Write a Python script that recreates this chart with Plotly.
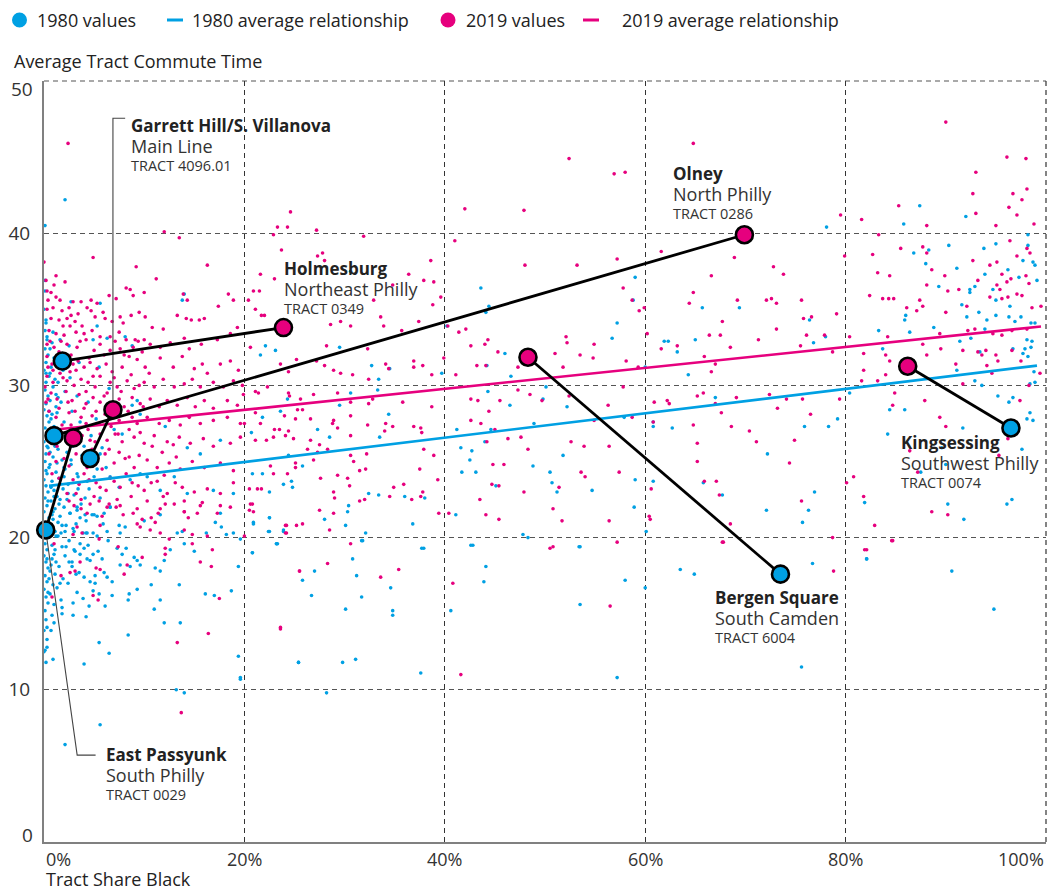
import plotly.graph_objects as go

FONT = "Open Sans"
BLUE = "#00A0E3"
PINK = "#E6007E"
INK = "#222222"

# ---- scatter cloud: (tract share black in %, average commute minutes) ----
tracts_1980 = [
    # dense column along the axis
    (0.1, 33.6), (0.3, 33.0), (0.1, 32.4), (0.4, 32.0), (0.2, 31.5), (0.0, 31.0), (0.5, 30.6), (0.2, 30.2),
    (0.1, 29.7), (0.4, 29.3), (0.2, 28.8), (0.0, 28.4), (0.3, 28.0), (0.5, 27.6), (0.1, 27.2), (0.3, 26.8),
    (0.0, 26.3), (0.4, 25.9), (0.2, 25.5), (0.1, 25.0), (0.5, 24.6), (0.3, 24.2), (0.0, 23.8), (0.2, 23.4),
    (0.4, 23.0), (0.1, 22.6), (0.3, 22.1), (0.0, 21.7), (0.5, 21.3), (0.2, 20.9), (0.4, 20.0), (0.1, 19.6),
    (0.3, 19.2), (0.0, 18.8), (0.2, 18.4), (0.4, 18.0), (0.1, 17.5), (0.3, 17.1), (0.0, 16.6), (0.2, 16.1),
    (0.4, 15.7), (0.1, 15.2), (0.2, 14.6), (0.0, 13.9), (0.3, 13.3), (0.1, 12.6), (0.2, 11.8), (0.0, 35.0),
    (0.2, 34.3), (0.1, 36.2), (0.3, 14.1), (0.0, 12.5), (0.3, 12.8), (0.9, 12.0),
    (0.2, 24.4), (0.4, 22.4), (0.1, 20.4), (0.3, 18.6), (0.5, 17.3), (0.6, 25.6), (0.7, 23.3), (0.9, 21.7),
    (1.1, 20.4), (0.8, 18.6), (1.3, 24.9), (1.5, 22.2), (1.7, 20.3), (1.2, 18.4), (1.6, 17.0), (2.3, 25.6),
    (2.4, 22.9), (2.2, 19.4), (2.9, 20.6), (3.6, 19.6), (0.5, 28.3), (0.3, 26.0), (0.9, 27.0), (1.4, 29.2),
    (0.2, 30.8), (0.6, 32.4), (2.8, 26.0), (3.4, 23.2), (4.1, 22.6), (5.3, 20.1), (4.4, 19.5), (5.8, 18.6),
    (3.9, 16.0), (1.0, 14.4), (0.4, 16.4),
    (0.8, 32.8), (1.0, 31.8), (0.7, 31.2), (1.1, 30.4), (0.9, 29.9), (0.6, 29.0), (1.2, 28.6), (0.8, 28.1),
    (1.0, 27.3), (0.7, 26.6), (1.1, 26.0), (0.9, 25.3), (0.6, 24.8), (1.2, 24.3), (0.8, 23.7), (1.0, 23.1),
    (0.7, 22.4), (1.1, 21.9), (0.9, 21.2), (0.6, 20.6), (1.2, 20.1), (0.8, 19.5), (1.0, 18.9), (0.7, 18.2),
    (1.1, 17.6), (0.9, 16.9), (0.6, 16.3), (1.0, 15.6), (0.8, 14.9), (0.7, 13.9), (0.9, 33.5), (0.6, 30.8),
    (1.2, 29.4), (0.7, 27.8), (1.0, 22.7), (0.8, 21.5), (1.1, 19.2), (0.6, 17.8),
    (1.5, 32.1), (1.9, 31.0), (1.4, 30.2), (2.1, 29.6), (1.7, 28.9), (1.3, 28.2), (2.0, 27.6), (1.6, 27.0),
    (2.2, 26.4), (1.4, 25.8), (1.8, 25.1), (2.1, 24.5), (1.5, 23.9), (1.9, 23.2), (1.3, 22.7), (2.0, 22.0),
    (1.6, 21.4), (2.2, 20.8), (1.4, 20.1), (1.8, 19.4), (2.1, 18.8), (1.5, 18.1), (1.9, 17.3), (1.3, 16.7),
    (1.7, 15.9), (1.8, 15.0), (1.6, 33.0), (2.0, 24.0), (1.4, 21.0),
    (2.6, 30.5), (3.3, 29.3), (2.8, 28.3), (3.6, 27.6), (2.5, 26.9), (3.1, 26.1), (3.8, 25.4), (2.7, 24.8),
    (3.4, 24.0), (2.4, 23.5), (3.0, 22.8), (3.7, 22.2), (2.6, 21.6), (3.2, 20.9), (3.9, 20.3), (2.5, 19.8),
    (3.1, 19.1), (2.8, 18.4), (3.5, 17.7), (2.4, 17.0), (3.3, 16.4), (2.9, 15.7), (3.5, 31.5), (2.5, 32.6),
    (4.4, 28.9), (5.2, 27.8), (4.7, 26.7), (5.8, 25.9), (4.3, 25.2), (6.2, 24.6), (5.0, 24.0), (4.5, 23.2),
    (5.6, 22.6), (6.6, 22.0), (4.8, 21.5), (5.9, 20.9), (4.2, 20.3), (6.4, 19.8), (5.4, 19.1), (4.6, 18.5),
    (6.0, 17.7), (5.1, 17.0), (6.8, 16.2), (4.5, 15.5), (6.5, 29.8), (5.5, 31.2), (4.9, 33.0),
    # scattered, left part
    (2.1, 42.2), (0.1, 40.5), (0.1, 36.9), (0.2, 34.1), (0.3, 33.2), (2.7, 35.5), (5.6, 35.4), (5.3, 33.9),
    (6.3, 33.1), (8.1, 33.2), (8.8, 32.6), (14.0, 36.0), (13.8, 35.6), (9.3, 29.0), (8.8, 28.7), (9.6, 28.1),
    (12.1, 27.3), (14.3, 25.9), (17.6, 26.4), (15.6, 25.5), (7.0, 27.1), (7.8, 26.8), (4.0, 26.0), (5.6, 25.5),
    (2.7, 25.1), (2.0, 24.6), (3.3, 24.2), (4.3, 23.7), (5.3, 24.5), (6.6, 24.0), (7.5, 23.3), (8.6, 23.8),
    (9.6, 24.2), (10.3, 24.0), (11.6, 23.1), (13.0, 24.0), (14.3, 22.9), (16.9, 23.1), (18.9, 22.9), (2.3, 22.5),
    (3.3, 21.8), (4.2, 21.1), (5.3, 21.4), (6.6, 22.0), (8.1, 20.7), (10.0, 21.1), (11.6, 21.5), (13.3, 20.3),
    (18.9, 20.3),
    (1.6, 22.5), (2.6, 21.6), (3.3, 22.0), (3.6, 21.3), (1.8, 20.8), (2.1, 20.4), (3.0, 20.4), (4.3, 20.3),
    (4.9, 20.3), (6.3, 20.4), (7.5, 20.8), (7.6, 20.3), (6.0, 21.6), (5.0, 21.5), (4.1, 21.5), (3.0, 19.2),
    (4.0, 19.3), (3.6, 18.9), (4.3, 18.6), (4.9, 18.9), (2.5, 18.4), (2.8, 18.1), (3.2, 17.6), (4.0, 17.4),
    (4.6, 17.1), (5.1, 17.5), (6.3, 17.4), (6.8, 17.1), (7.3, 19.3), (7.8, 18.9), (8.2, 19.3), (9.3, 18.5),
    (9.0, 18.7), (7.6, 18.2), (8.6, 18.1), (9.6, 18.2), (11.1, 18.0), (11.6, 17.8), (12.0, 18.5), (12.6, 19.2),
    (13.8, 20.4), (14.0, 19.6), (15.0, 19.1), (16.2, 20.3), (17.1, 21.0), (17.6, 21.6), (17.7, 20.7), (18.2, 20.2),
    (19.6, 19.9), (19.4, 18.1), (18.7, 16.5), (17.0, 16.2), (16.1, 16.3), (13.5, 16.9), (11.6, 15.9), (10.7, 16.9),
    (9.3, 16.6), (8.5, 16.3), (8.4, 15.9), (5.5, 16.3), (4.9, 16.5), (6.1, 15.5), (11.0, 15.3), (12.0, 14.4),
    (13.6, 14.4), (4.2, 14.8), (2.9, 14.9), (1.8, 15.4), (8.4, 13.6), (6.5, 12.4), (5.5, 13.1), (4.0, 11.7),
    (19.4, 12.2), (19.6, 10.8), (25.4, 11.8), (13.2, 10.0), (14.0, 9.8), (5.6, 7.7), (2.1, 6.4), (20.9, 21.0),
    (20.8, 19.0), (22.5, 21.3), (23.3, 19.6), (22.5, 20.4), (23.9, 20.4),
    # middle
    (30.6, 37.5), (43.6, 36.4), (44.4, 35.2), (44.1, 34.8), (59.0, 37.1), (58.8, 35.6), (57.2, 34.1), (56.7, 33.1),
    (22.1, 32.6), (23.1, 32.3), (21.6, 32.0), (29.5, 32.5), (32.7, 31.3), (34.5, 31.1), (39.7, 30.8), (40.2, 33.9),
    (44.2, 31.3), (46.0, 32.1), (46.6, 30.6), (33.4, 30.4), (30.6, 29.5), (24.3, 29.1), (29.5, 28.7), (33.3, 29.7),
    (34.4, 28.1), (33.5, 26.6), (21.8, 27.9), (20.7, 26.9), (23.6, 28.3), (27.3, 27.1), (28.5, 26.6), (44.3, 29.6),
    (46.5, 28.7), (48.9, 27.5), (49.8, 29.1), (50.1, 29.9), (52.2, 28.6), (60.0, 31.2), (57.9, 27.9), (51.8, 25.4),
    (48.8, 24.7), (50.5, 24.3), (50.7, 23.6), (51.2, 23.0), (54.7, 23.1), (59.0, 23.8), (58.9, 22.0), (41.7, 24.3),
    (43.1, 24.3), (42.7, 25.7), (42.5, 25.1), (41.6, 25.9), (41.2, 27.1), (44.0, 26.3), (44.6, 27.1), (45.1, 23.4),
    (41.1, 21.5), (36.8, 20.9), (38.0, 22.6), (36.0, 22.7), (33.4, 22.8), (32.4, 22.9), (30.4, 22.1), (30.3, 21.7),
    (22.5, 23.0), (23.9, 23.5), (24.8, 23.3), (24.7, 23.7), (20.8, 24.2), (21.8, 24.2), (25.8, 24.7), (24.4, 25.4),
    (22.5, 21.3), (20.9, 20.9), (22.4, 20.4), (23.9, 20.5), (28.0, 21.2), (30.1, 20.8), (32.1, 20.3), (23.2, 19.6),
    (31.8, 19.8), (37.9, 19.3), (42.8, 19.5), (47.8, 20.2), (48.3, 20.0), (53.5, 19.4),
    # right part
    (78.1, 40.4), (87.4, 41.8), (85.8, 40.6), (92.0, 41.1), (98.2, 39.9), (98.2, 39.2), (93.8, 39.0), (95.0, 39.3),
    (90.3, 39.2), (86.8, 38.7), (88.3, 38.9), (88.0, 38.0), (91.1, 37.7), (96.2, 37.6), (97.3, 37.1), (97.7, 38.2),
    (98.7, 38.1), (98.9, 37.9), (99.1, 36.9), (93.9, 37.3), (92.9, 36.5), (92.4, 36.3), (92.4, 36.1), (94.7, 36.3),
    (95.0, 35.6), (96.4, 35.2), (93.3, 34.8), (95.0, 34.6), (96.3, 34.5), (97.5, 34.5), (96.9, 34.2), (98.9, 34.1),
    (98.5, 34.1), (91.6, 35.3), (92.1, 34.5), (89.3, 36.5), (88.8, 33.8), (86.0, 34.6), (85.9, 34.3), (86.4, 33.5),
    (83.3, 33.6), (94.1, 34.3), (93.9, 33.7), (92.5, 33.1), (91.4, 32.9), (98.1, 33.0), (98.6, 32.9), (97.9, 32.4),
    (97.7, 32.1), (98.2, 31.9), (98.5, 32.5), (93.4, 32.2), (96.7, 32.4), (83.7, 32.4), (91.1, 31.0), (98.8, 30.9),
    (98.9, 30.2), (98.4, 30.1), (92.9, 30.3), (93.6, 30.0), (80.4, 29.5), (78.0, 33.2), (76.8, 32.8), (76.4, 34.3),
    (69.4, 35.1), (65.7, 35.1), (65.0, 33.0), (62.3, 32.9), (61.9, 32.9), (63.2, 32.2), (64.3, 30.7), (67.0, 29.2),
    (60.8, 27.6), (60.8, 27.3), (62.7, 27.2), (75.9, 27.3), (78.3, 27.3), (79.2, 27.8), (72.2, 25.5), (60.8, 23.7),
    (65.8, 23.6), (67.7, 22.8), (76.9, 23.0), (76.3, 21.8), (75.7, 21.0), (72.1, 21.8), (60.1, 20.4), (81.9, 22.3),
    (82.1, 18.6), (84.4, 28.4), (85.9, 28.4), (84.2, 26.8), (87.5, 24.3), (89.6, 25.9), (90.0, 24.8), (91.7, 27.2),
    (95.2, 29.3), (96.3, 28.9), (96.7, 29.2), (98.4, 28.2), (98.1, 27.8), (98.7, 27.7), (97.6, 25.8), (90.2, 22.2),
    (91.8, 21.2), (96.1, 22.2), (96.6, 22.5),
    # lower band
    (20.8, 19.0), (23.2, 19.6), (27.0, 17.8), (25.8, 17.2), (26.7, 16.2), (30.8, 18.6), (31.2, 17.5), (31.7, 19.8),
    (30.1, 15.3), (31.7, 16.1), (34.6, 16.7), (34.8, 15.2), (34.8, 14.9), (37.7, 19.3), (25.4, 11.8), (29.8, 11.8),
    (31.1, 12.0), (37.6, 11.1), (28.2, 9.8), (19.6, 10.7), (42.6, 19.5), (44.1, 18.1), (43.9, 17.1), (40.6, 15.2),
    (53.4, 19.4), (53.5, 15.6), (58.0, 17.2), (60.0, 16.7), (57.2, 10.8), (63.5, 17.9), (64.9, 17.6), (76.7, 18.3),
    (75.6, 11.5), (82.1, 18.6), (90.6, 17.8), (94.8, 15.3),
]

tracts_2019 = [
    # left cloud
    (12.0, 40.1), (13.5, 39.7), (4.9, 38.4), (9.2, 37.8), (16.3, 37.9), (11.2, 37.0), (0.2, 36.9), (0.3, 36.2),
    (0.7, 36.1), (1.2, 35.8), (2.1, 36.8), (0.3, 35.0), (0.9, 35.1), (1.6, 35.6), (2.5, 35.1), (2.9, 35.5),
    (3.7, 35.5), (4.7, 35.6), (5.3, 35.4), (7.2, 35.7), (8.2, 36.4), (8.6, 36.3), (8.9, 35.9), (10.0, 36.1),
    (13.9, 36.0), (14.3, 35.6), (11.9, 33.7), (13.3, 34.6), (14.2, 34.4), (14.7, 34.3), (15.5, 34.3), (16.0, 34.4),
    (18.4, 36.0), (18.9, 35.6), (17.4, 35.2), (0.7, 34.4), (1.5, 34.3), (2.3, 34.4), (2.7, 34.6), (3.1, 34.2),
    (3.8, 33.9), (4.7, 34.9), (5.1, 34.5), (6.1, 34.4), (6.8, 34.2), (7.6, 34.5), (8.7, 34.6), (9.5, 34.8),
    (10.1, 34.5), (10.8, 33.8), (0.5, 33.6), (1.2, 33.4), (2.0, 33.3), (3.2, 33.5), (4.0, 33.4), (4.8, 33.6),
    (5.6, 33.2), (6.6, 33.2), (7.5, 33.5), (8.2, 33.0), (9.1, 33.0), (10.0, 33.0), (0.3, 32.7), (1.0, 32.5),
    (1.5, 32.2), (2.3, 32.7), (3.3, 32.5), (4.2, 33.0), (5.0, 32.3), (5.6, 32.7), (6.6, 32.3), (7.6, 32.4),
    (8.9, 32.5), (9.8, 32.2), (10.6, 32.7), (11.6, 32.5), (12.6, 32.8), (14.0, 33.1), (14.5, 32.4), (15.7, 32.7),
    (17.3, 33.0), (18.6, 33.4), (19.3, 33.8), (0.3, 31.9), (0.8, 31.4), (1.3, 31.6), (2.2, 31.8), (2.9, 31.4),
    (3.2, 31.0), (4.0, 31.2), (4.6, 31.5), (5.3, 31.1), (6.2, 31.4), (6.8, 30.9), (7.8, 31.2), (8.5, 31.9),
    (9.3, 31.7), (10.1, 31.2), (10.5, 30.8), (11.6, 31.8), (12.9, 31.2), (13.8, 31.9), (15.0, 31.1), (15.8, 31.4),
    (16.3, 30.8), (17.6, 31.4), (18.6, 31.6), (19.4, 31.0), (0.3, 30.6), (0.9, 30.2), (1.6, 30.8), (2.3, 30.3),
    (3.0, 30.0), (3.7, 30.4), (4.4, 30.2), (5.1, 29.9), (5.6, 30.6), (6.6, 30.2), (7.3, 29.9), (8.3, 30.3),
    (9.0, 29.8), (10.0, 30.2), (11.0, 29.9), (11.9, 30.4), (13.0, 29.9), (14.0, 30.1), (14.8, 30.4), (15.6, 29.9),
    (16.9, 30.2), (17.9, 29.9), (18.9, 30.3), (19.8, 30.0), (0.7, 29.5), (1.3, 29.1), (2.2, 29.6), (2.8, 29.0),
    (3.5, 29.4), (4.2, 28.8), (4.9, 29.2), (5.6, 28.9), (6.3, 29.5), (7.5, 29.1), (8.0, 28.6), (8.8, 29.2),
    (9.6, 28.8), (10.6, 29.1), (11.5, 28.6), (12.3, 29.0), (13.3, 28.7), (14.3, 29.2), (15.1, 28.6), (16.0, 29.0),
    (16.9, 28.5), (18.3, 29.0), (19.3, 28.7), (0.5, 28.3), (1.2, 27.9), (3.7, 27.9), (4.2, 27.5), (4.8, 28.0),
    (5.5, 27.5), (8.8, 27.9), (9.3, 27.5), (10.3, 27.9), (11.5, 27.5), (12.5, 27.7), (13.6, 27.4), (14.5, 27.9),
    (15.6, 27.5), (16.9, 27.7), (18.3, 27.9), (19.6, 27.5), (0.7, 27.1), (3.8, 26.7), (4.6, 26.4), (5.6, 26.8),
    (6.3, 26.4), (7.1, 26.8), (7.8, 26.3), (9.0, 26.6), (10.0, 26.2), (11.0, 26.7), (12.3, 26.3), (13.5, 26.6),
    (14.6, 26.2), (15.9, 26.5), (16.9, 26.0), (18.6, 26.2), (19.6, 26.6), (0.5, 25.5), (1.3, 26.0), (2.0, 25.2),
    (3.2, 25.5), (4.3, 24.6), (5.3, 25.0), (6.1, 25.5), (7.0, 24.9), (8.1, 25.2), (9.0, 24.6), (10.3, 25.1),
    (11.3, 24.6), (12.5, 24.9), (13.6, 24.5), (14.8, 25.0), (16.0, 24.6), (17.6, 24.9), (18.9, 24.4), (0.8, 24.2),
    (1.5, 23.9), (3.5, 23.5), (4.5, 23.8), (5.6, 23.3), (6.6, 23.9), (7.6, 23.3), (8.8, 23.6), (10.0, 23.1),
    (11.3, 23.7), (12.3, 22.9), (13.8, 23.3), (15.0, 23.0), (16.3, 23.2), (17.6, 22.9), (18.9, 23.6), (2.3, 22.9),
    (3.7, 22.5), (5.0, 22.7), (6.3, 22.0), (7.3, 22.5), (9.3, 21.9), (10.3, 22.4), (14.0, 21.7), (15.6, 22.1),
    (17.3, 21.6), (18.6, 22.0), (9.6, 20.7), (11.6, 20.3), (14.0, 20.5), (16.3, 20.1), (2.4, 45.9), (0.0, 38.1),
    (1.2, 37.2), (0.4, 31.2), (0.1, 29.9), (0.2, 28.9), (0.6, 26.4), (1.8, 27.4), (2.5, 28.2), (1.9, 33.9),
    (0.4, 35.6), (1.0, 36.6), (1.8, 34.9), (2.6, 33.9), (3.4, 34.7), (4.3, 35.1), (5.9, 34.8), (6.5, 35.9),
    (7.9, 34.1), (0.6, 32.9), (1.7, 32.9), (2.7, 32.0), (3.6, 32.9), (4.5, 31.8), (6.0, 32.0), (7.1, 32.9),
    (8.0, 32.0), (9.4, 32.9), (0.9, 31.0), (1.9, 30.5), (2.6, 30.9), (3.4, 31.6), (4.2, 29.6), (4.9, 30.6),
    (6.0, 29.3), (7.0, 30.5), (7.7, 29.6), (8.7, 30.7), (9.5, 30.0), (0.4, 29.1), (1.5, 28.5), (2.4, 28.9),
    (3.1, 28.3), (4.0, 28.5), (5.2, 28.3), (6.1, 28.1), (6.8, 28.8), (7.5, 27.7), (8.4, 28.3), (9.9, 28.6),
    (1.6, 26.6), (2.7, 27.4), (3.3, 26.9), (4.4, 27.1), (5.1, 26.3), (6.7, 27.3), (7.4, 26.8), (8.5, 27.1),
    (9.6, 26.9), (1.2, 25.0), (2.5, 24.7), (3.9, 25.2), (4.8, 25.8), (5.8, 24.5), (6.5, 25.8), (7.5, 25.6),
    (8.5, 25.3), (9.5, 25.4), (10.8, 26.0), (11.8, 25.6), (12.9, 26.1), (13.2, 25.3), (2.9, 23.8), (4.0, 24.2),
    (5.2, 23.6), (6.2, 23.1), (7.0, 23.7), (8.2, 24.2), (9.4, 23.4), (10.7, 23.6), (12.0, 24.1), (3.2, 22.9),
    (4.6, 22.2), (5.8, 21.4), (7.9, 21.5), (8.7, 22.7), (11.9, 22.7), (13.1, 23.6),
    (2.5, 22.4), (3.0, 22.1), (3.7, 21.9), (4.3, 21.6), (5.5, 22.4), (6.5, 22.2), (7.2, 22.0), (7.6, 22.1),
    (8.9, 21.6), (9.3, 20.9), (9.8, 21.2), (10.7, 21.3), (10.6, 20.5), (11.1, 21.0), (11.4, 21.6), (11.6, 21.9),
    (12.1, 22.2), (13.0, 22.2), (14.0, 21.7), (14.4, 21.3), (15.3, 21.6), (15.8, 22.3), (17.6, 22.1), (14.8, 20.2),
    (14.0, 22.4), (3.3, 20.7), (3.8, 20.3), (2.9, 20.2), (5.6, 20.8), (5.5, 19.9), (7.4, 19.4), (8.3, 18.2),
    (9.8, 18.7), (12.1, 19.3), (12.1, 18.9), (12.5, 19.9), (14.8, 19.6), (16.8, 19.2), (15.6, 18.4), (16.7, 18.1),
    (17.5, 16.0), (16.4, 13.7), (13.3, 13.1), (13.7, 8.5), (23.6, 14.1), (25.5, 17.8), (20.0, 20.1), (20.9, 21.7),
    (20.6, 22.2), (24.1, 20.8), (24.2, 20.3), (5.2, 18.0), (5.6, 17.9), (3.1, 17.8), (2.6, 17.7), (8.0, 17.6),
    (3.6, 18.4), (1.7, 17.5), (0.8, 16.1), (4.9, 16.2), (5.4, 15.9), (1.0, 19.6),
    # middle
    (24.6, 41.4), (23.3, 40.4), (24.3, 40.4), (27.2, 40.2), (52.4, 44.9), (56.9, 43.9), (58.0, 44.0), (42.0, 41.6),
    (47.9, 41.5), (22.9, 39.9), (31.9, 39.8), (23.7, 38.9), (27.3, 38.5), (27.8, 38.7), (28.0, 38.2), (38.6, 38.2),
    (21.6, 37.3), (23.0, 37.0), (20.9, 36.2), (21.5, 36.2), (20.4, 35.6), (21.1, 35.0), (21.7, 34.6), (22.0, 34.6),
    (36.4, 37.3), (37.9, 36.9), (38.9, 36.8), (39.6, 35.8), (38.8, 35.3), (34.8, 36.6), (33.6, 34.5), (32.9, 35.6),
    (33.9, 33.9), (30.6, 33.9), (28.6, 34.0), (29.6, 34.2), (35.7, 33.6), (37.4, 34.2), (41.0, 39.5), (48.0, 37.9),
    (53.2, 37.9), (57.2, 38.3), (57.8, 36.4), (58.7, 35.6), (59.4, 34.9), (42.1, 33.7), (41.4, 33.5), (44.3, 33.0),
    (42.6, 32.6), (44.0, 32.7), (52.1, 33.2), (52.2, 32.8), (54.9, 32.7), (53.5, 32.0), (54.8, 31.8), (58.1, 31.6),
    (51.0, 32.1), (45.3, 32.2), (40.3, 33.9), (28.2, 32.6), (32.3, 32.4), (20.6, 32.5), (23.6, 31.4), (24.4, 30.9),
    (25.2, 31.7), (27.2, 31.6), (28.0, 31.3), (28.9, 31.0), (29.6, 30.8), (30.8, 30.7), (32.4, 30.4), (34.1, 31.4),
    (34.4, 31.1), (36.9, 31.6), (36.9, 31.2), (37.8, 31.3), (38.7, 30.7), (39.9, 31.8), (41.1, 30.7), (43.2, 31.3),
    (44.1, 31.3), (47.3, 31.2), (51.8, 31.2), (59.3, 31.2), (19.9, 29.4), (21.1, 29.6), (21.4, 29.5), (22.3, 29.9),
    (24.4, 29.5), (24.5, 29.3), (25.6, 29.1), (26.9, 29.4), (29.3, 29.5), (30.6, 28.9), (32.8, 29.1), (32.4, 28.8),
    (35.8, 28.9), (38.7, 28.6), (42.6, 29.1), (43.3, 29.0), (45.5, 29.0), (47.3, 29.7), (48.5, 29.4), (49.7, 29.0),
    (52.4, 29.3), (56.3, 28.7), (57.8, 29.9), (58.7, 27.9), (20.0, 27.5), (21.1, 28.2), (21.6, 27.5), (23.0, 27.1),
    (23.5, 27.1), (24.4, 27.0), (25.3, 28.4), (25.8, 28.4), (26.6, 27.8), (25.1, 27.8), (24.0, 28.0), (28.9, 27.7),
    (28.8, 27.5), (29.3, 27.2), (30.6, 28.0), (30.6, 26.7), (32.3, 27.4), (34.1, 27.5), (34.0, 27.0), (34.8, 27.3),
    (36.9, 27.3), (37.6, 27.2), (37.7, 26.9), (21.1, 26.4), (22.2, 26.4), (22.9, 26.6), (24.1, 26.7), (24.9, 26.5),
    (26.6, 26.4), (27.5, 26.1), (26.3, 25.8), (27.3, 25.6), (28.3, 25.8), (44.4, 28.3), (42.6, 27.7), (45.0, 27.1),
    (46.3, 26.5), (47.6, 26.6), (44.2, 26.3), (52.6, 26.3), (53.9, 26.0), (56.4, 26.0), (48.3, 25.8), (54.9, 27.7),
    (43.6, 27.5), (26.9, 25.1), (30.6, 25.4), (32.2, 25.5), (37.9, 25.8), (38.9, 25.4), (30.9, 25.0), (22.6, 24.7),
    (22.9, 24.2), (24.3, 24.2), (25.1, 24.9), (25.1, 24.6), (27.6, 23.9), (29.3, 24.1), (30.3, 23.9), (30.5, 23.4),
    (31.5, 24.4), (32.1, 24.5), (37.5, 24.5), (39.3, 23.8), (44.8, 24.8), (45.9, 24.8), (53.6, 24.3), (54.0, 24.0),
    (57.4, 24.3), (44.7, 23.5), (45.4, 23.4), (51.4, 23.3), (34.9, 23.3), (35.9, 23.5), (37.8, 23.0), (36.7, 22.5),
    (37.6, 22.7), (28.9, 23.0), (29.0, 22.6), (21.3, 23.2), (20.5, 23.2), (21.7, 23.2), (31.5, 22.4), (32.0, 22.5),
    (34.5, 22.7), (20.8, 22.2), (20.5, 21.8), (27.5, 21.8), (28.9, 21.6), (39.4, 21.6), (40.4, 21.6), (43.5, 22.5),
    (44.1, 21.5), (47.9, 23.0), (50.8, 21.9), (51.7, 21.1), (56.4, 21.1), (60.4, 21.4), (45.4, 21.2), (24.2, 20.8),
    (25.2, 20.8), (25.8, 20.9), (24.1, 20.3), (28.5, 20.5), (50.8, 19.4), (57.2, 19.7),
    # right
    (70.8, 50.4), (93.4, 50.5), (64.8, 45.9), (90.0, 47.3), (96.1, 45.0), (98.0, 44.9), (93.0, 44.0), (92.7, 42.6),
    (96.7, 42.6), (98.1, 42.9), (97.6, 42.2), (85.3, 41.8), (96.3, 41.7), (93.0, 41.3), (97.1, 41.2), (88.1, 40.5),
    (95.0, 40.5), (98.8, 40.6), (79.5, 41.2), (81.6, 40.9), (83.3, 39.9), (79.9, 38.5), (61.6, 38.8), (68.9, 38.4),
    (66.6, 37.2), (72.8, 37.8), (73.8, 37.3), (64.8, 36.1), (64.4, 35.4), (69.2, 35.6), (72.1, 35.6), (72.6, 35.7),
    (73.1, 35.4), (75.6, 35.6), (67.7, 34.2), (66.4, 33.3), (67.5, 33.3), (68.5, 32.5), (71.3, 33.0), (73.1, 33.7),
    (75.8, 34.4), (76.6, 34.5), (76.1, 33.3), (77.9, 33.3), (79.1, 34.7), (75.5, 32.6), (78.7, 32.2), (61.6, 32.4),
    (63.2, 32.6), (65.9, 31.9), (67.0, 31.4), (66.6, 30.9), (60.2, 33.4), (59.9, 35.1), (82.7, 38.6), (83.2, 37.4),
    (84.4, 37.2), (85.5, 39.0), (87.7, 39.1), (88.1, 38.7), (88.6, 37.6), (88.1, 36.6), (89.9, 37.2), (90.2, 36.2),
    (91.3, 36.3), (92.7, 38.2), (93.2, 36.9), (94.4, 37.9), (95.1, 38.1), (96.4, 39.5), (97.1, 38.5), (98.1, 39.0),
    (98.4, 38.7), (95.6, 37.3), (96.1, 36.8), (96.5, 37.0), (95.1, 36.6), (95.4, 36.3), (95.6, 35.7), (94.4, 35.8),
    (96.2, 35.8), (97.1, 36.0), (97.6, 35.9), (98.0, 37.2), (98.6, 35.1), (98.3, 36.7), (99.5, 35.2), (82.4, 35.9),
    (83.7, 35.7), (84.3, 35.7), (84.8, 35.7), (86.1, 35.1), (87.1, 34.9), (87.4, 35.6), (87.7, 35.2), (90.0, 34.8),
    (92.1, 35.2), (80.4, 33.2), (84.2, 33.2), (87.7, 32.7), (89.4, 33.4), (92.2, 33.6), (92.9, 33.7), (94.7, 33.4),
    (95.6, 33.3), (96.6, 33.6), (98.1, 33.7), (81.8, 32.1), (84.0, 32.0), (84.4, 31.6), (88.1, 32.0), (89.5, 32.4),
    (91.7, 32.3), (93.2, 32.2), (93.6, 32.0), (94.0, 32.3), (95.0, 32.0), (95.2, 31.6), (96.6, 32.3), (97.5, 31.6),
    (81.8, 31.0), (83.2, 30.3), (84.0, 30.7), (81.6, 30.3), (91.0, 31.4), (94.1, 31.3), (94.6, 30.8), (91.7, 30.1),
    (98.3, 30.0), (99.4, 30.8), (84.9, 29.5), (84.7, 28.7), (87.9, 29.0), (89.4, 27.9), (90.0, 27.3), (97.4, 29.0),
    (96.2, 26.5), (95.3, 25.4), (79.4, 29.1), (75.7, 29.1), (74.1, 29.1), (72.4, 29.4), (73.2, 28.5), (76.5, 28.1),
    (69.1, 29.2), (67.0, 28.8), (65.2, 29.3), (65.8, 29.5), (62.2, 29.0), (62.4, 28.8), (60.9, 28.9), (60.8, 27.6),
    (67.6, 28.2), (64.8, 27.4), (68.6, 27.3), (70.4, 27.0), (71.1, 26.3), (74.9, 26.4), (65.2, 26.2), (65.2, 25.0),
    (74.4, 24.9), (65.9, 23.7), (67.1, 23.7), (67.4, 22.8), (60.6, 23.2), (60.5, 21.2), (68.5, 20.9), (75.6, 22.4),
    (67.8, 19.7), (78.7, 20.0), (80.8, 24.0), (80.1, 23.6), (81.8, 22.7), (82.9, 20.8), (84.7, 19.8), (82.1, 19.2),
    (86.4, 25.7), (87.2, 24.3), (88.6, 21.7), (90.2, 21.5),
    # lower band
    (30.6, 19.6), (28.3, 18.3), (25.5, 17.8), (33.6, 17.4), (35.4, 17.9), (23.6, 14.0), (40.8, 17.0), (41.6, 11.0),
    (50.5, 19.3), (56.5, 15.5), (67.7, 19.7), (78.8, 17.8), (81.9, 19.2), (84.6, 19.8),
]

# ---- average relationship lines ----
trend_1980_share = [0.005, 0.991]
trend_1980_time = [23.4, 31.3]
trend_2019_share = [0.005, 0.995]
trend_2019_time = [27.05, 33.87]

# ---- highlighted tracts ----
tract_names = ["Garrett Hill/S. Villanova", "East Passyunk", "Olney", "Holmesburg", "Bergen Square", "Kingsessing"]
tract_areas = ["Main Line", "South Philly", "North Philly", "Northeast Philly", "South Camden", "Southwest Philly"]
tract_ids = ["TRACT 4096.01", "TRACT 0029", "TRACT 0286", "TRACT 0349", "TRACT 6004", "TRACT 0074"]
share_1980 = [0.046, 0.0017, 0.010, 0.0183, 0.735, 0.965]
time_1980 = [25.2, 20.5, 26.7, 31.6, 17.6, 27.2]
share_2019 = [0.0688, 0.0292, 0.699, 0.239, 0.483, 0.862]
time_2019 = [28.4, 26.55, 39.9, 33.8, 31.85, 31.26]
# label anchor (left edge of the text block, data units)
label_x = [0.0863, 0.0613, 0.6269, 0.2389, 0.6688, 0.8544]
label_y = [47.08, 5.78, 43.93, 37.69, 16.09, 26.26]

y_ticks = [10, 20, 30, 40]

# the page body adds an 8px margin, so the figure is laid out in page pixels minus 8
PAGE_OFF = 8
FIG_W, FIG_H = 1057 - PAGE_OFF, 890 - PAGE_OFF
PLOT_L, PLOT_R, PLOT_T, PLOT_B = 44, 1046, 81, 842   # page pixels


def paper_x(px):
    return (px - PLOT_L) / (PLOT_R - PLOT_L)


def paper_y(py):
    return (PLOT_B - py) / (PLOT_B - PLOT_T)


fig = go.Figure()

for pts, color in [(tracts_1980, BLUE), (tracts_2019, PINK)]:
    fig.add_trace(go.Scatter(
        x=[p[0] / 100 for p in pts], y=[p[1] for p in pts], mode="markers",
        marker=dict(color=color, size=3.6, line=dict(width=0)),
        cliponaxis=False, hoverinfo="skip",
    ))

fig.add_trace(go.Scatter(x=trend_1980_share, y=trend_1980_time, mode="lines",
                         line=dict(color=BLUE, width=2.6)))
fig.add_trace(go.Scatter(x=trend_2019_share, y=trend_2019_time, mode="lines",
                         line=dict(color=PINK, width=2.6)))

# leader lines for the two labels that sit away from their points
fig.add_trace(go.Scatter(
    x=[share_2019[0], share_2019[0], 0.081, None, share_1980[1], 0.0331, 0.0515],
    y=[time_2019[0], 47.55, 47.55, None, time_1980[1], 5.71, 5.71],
    mode="lines", line=dict(color="#444444", width=1.1), cliponaxis=False,
))

# 1980 -> 2019 connectors
cx, cy = [], []
for a, b, c, d in zip(share_1980, time_1980, share_2019, time_2019):
    cx += [a, c, None]
    cy += [b, d, None]
fig.add_trace(go.Scatter(x=cx, y=cy, mode="lines", line=dict(color="#000000", width=2.8)))

for xs, ys, color in [(share_1980, time_1980, BLUE), (share_2019, time_2019, PINK)]:
    fig.add_trace(go.Scatter(
        x=xs, y=ys, mode="markers", cliponaxis=False,
        marker=dict(color=color, size=17, line=dict(color="#000000", width=2.6)),
    ))

# labels: name / area / tract id on three lines
for name, area, tid, lx, ly in zip(tract_names, tract_areas, tract_ids, label_x, label_y):
    for text, dy, size in [(f"<b>{name}</b>", 0, 17), (area, 1.38, 18), (tid, 2.63, 14.5)]:
        fig.add_annotation(x=lx, y=ly - dy, text=text, showarrow=False, xanchor="left", yanchor="middle",
                           xshift=-1, font=dict(family=FONT, size=size, color=INK if dy == 0 else "#333333"))

# x tick labels (ends pulled inside the frame)
for val, anchor in [(0, "left"), (0.2, "center"), (0.4, "center"), (0.6, "center"), (0.8, "center"), (1.0, "right")]:
    fig.add_annotation(x=val, y=paper_y(859), xref="x", yref="paper", text=f"{round(val * 100)}%",
                       showarrow=False, xanchor=anchor, yanchor="middle",
                       font=dict(family=FONT, size=18, color="#333333"))

# y end labels nudged inside the frame like the others
for val, shift in [(0, 7), (50, -8)]:
    fig.add_annotation(x=0, y=val, xref="paper", yref="y", text=str(val), showarrow=False, xanchor="right",
                       yanchor="middle", xshift=-9, yshift=shift, font=dict(family=FONT, size=19, color="#333333"))

# axis titles
fig.add_annotation(x=paper_x(12), y=paper_y(61), xref="paper", yref="paper", text="Average Tract Commute Time",
                   showarrow=False, xanchor="left", yanchor="middle", font=dict(family=FONT, size=18, color=INK))
fig.add_annotation(x=paper_x(44), y=paper_y(879), xref="paper", yref="paper", text="Tract Share Black",
                   showarrow=False, xanchor="left", yanchor="middle", font=dict(family=FONT, size=18, color=INK))

# legend row
legend_items = [("dot", BLUE, 19.5, 35, "1980 values"), ("line", BLUE, 175, 190, "1980 average relationship"),
                ("dot", PINK, 448, 464, "2019 values"), ("line", PINK, 591, 620, "2019 average relationship")]
for kind, color, sx, tx, text in legend_items:
    if kind == "dot":
        fig.add_shape(type="circle", xref="paper", yref="paper", x0=paper_x(sx - 7.5), x1=paper_x(sx + 7.5),
                      y0=paper_y(27.5), y1=paper_y(12.5), fillcolor=color, line=dict(width=0))
    else:
        fig.add_shape(type="line", xref="paper", yref="paper", x0=paper_x(sx - 8), x1=paper_x(sx + 8),
                      y0=paper_y(20), y1=paper_y(20), line=dict(color=color, width=3))
    fig.add_annotation(x=paper_x(tx), y=paper_y(20), xref="paper", yref="paper", text=text, showarrow=False,
                       xanchor="left", yanchor="middle", font=dict(family=FONT, size=18, color=INK))

# dashed frame on top and right
fig.add_shape(type="line", xref="paper", yref="paper", x0=0, x1=1, y0=1, y1=1,
              line=dict(color="#555555", width=1.2, dash="5px,4px"), layer="below")
fig.add_shape(type="line", xref="paper", yref="paper", x0=1, x1=1, y0=0, y1=1,
              line=dict(color="#333333", width=1.2, dash="5px,4px"), layer="below")

fig.update_layout(
    width=FIG_W, height=FIG_H, showlegend=False,
    paper_bgcolor="white", plot_bgcolor="white",
    margin=dict(l=PLOT_L - PAGE_OFF, r=FIG_W - (PLOT_R - PAGE_OFF), t=PLOT_T - PAGE_OFF,
                b=FIG_H - (PLOT_B - PAGE_OFF), autoexpand=False),
    font=dict(family=FONT, color=INK),
    xaxis=dict(range=[0, 1], tickvals=[0.2, 0.4, 0.6, 0.8], showticklabels=False, automargin=False,
               showgrid=True, gridcolor="#333333", gridwidth=1.2, griddash="5px,4px",
               zeroline=False, showline=True, linecolor="#808080", linewidth=1.6, ticks=""),
    yaxis=dict(range=[0, 50], tickvals=y_ticks, ticktext=[str(v) for v in y_ticks],
               automargin=False,
               showgrid=True, gridcolor="#555555", gridwidth=1.2, griddash="5px,4px",
               zeroline=False, showline=True, linecolor="#808080", linewidth=2, ticks="",
               ticklabelstandoff=8, tickfont=dict(family=FONT, size=19, color="#333333")),
)

fig.write_html("out.html")
